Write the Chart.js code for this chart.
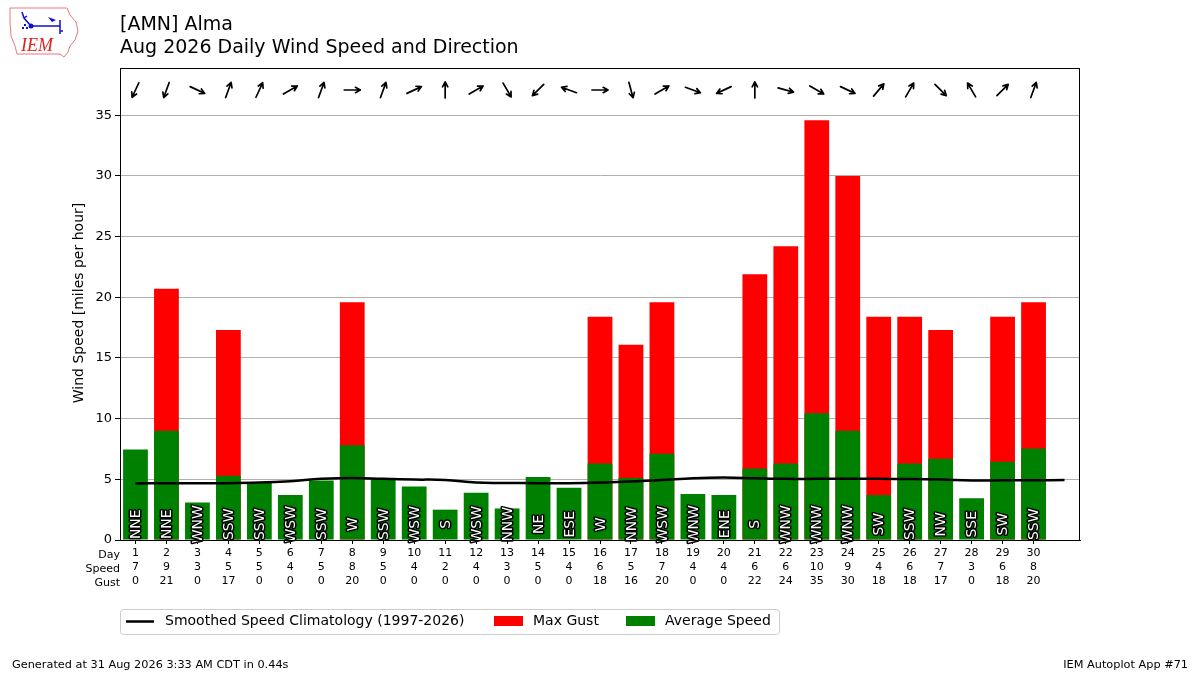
<!DOCTYPE html>
<html>
<head>
<meta charset="utf-8">
<script src="https://cdn.jsdelivr.net/npm/chart.js@4/dist/chart.umd.min.js"></script>
<style>
  html, body { margin: 0; padding: 0; background: #fff; }
  canvas { display: block; }
</style>
</head>
<body>
<canvas id="windChart" width="1200" height="675"></canvas>
<script>
// daily values, Aug 2026
const days = [1,2,3,4,5,6,7,8,9,10,11,12,13,14,15,16,17,18,19,20,21,22,23,24,25,26,27,28,29,30];
const avgSpeed = [7.45, 9.0, 3.1, 5.3, 4.7, 3.7, 4.9, 7.8, 5.0, 4.4, 2.5, 3.9, 2.6, 5.2, 4.3,
                  6.3, 5.1, 7.1, 3.8, 3.7, 5.9, 6.3, 10.45, 9.0, 3.7, 6.3, 6.7, 3.45, 6.45, 7.55];
const maxGust = [0, 20.7, 0, 17.3, 0, 0, 0, 19.6, 0, 0, 0, 0, 0, 0, 0,
                 18.4, 16.1, 19.6, 0, 0, 21.9, 24.2, 34.6, 30.0, 18.4, 18.4, 17.3, 0, 18.4, 19.6];
const speedLabels = [7,9,3,5,5,4,5,8,5,4,2,4,3,5,4,6,5,7,4,4,6,6,10,9,4,6,7,3,6,8];
const gustLabels = [0,21,0,17,0,0,0,20,0,0,0,0,0,0,0,18,16,20,0,0,22,24,35,30,18,18,17,0,18,20];
const dirNames = ['NNE','NNE','WNW','SSW','SSW','WSW','SSW','W','SSW','WSW','S','WSW','NNW','NE','ESE',
                  'W','NNW','WSW','WNW','ENE','S','WNW','WNW','WNW','SW','SSW','NW','SSE','SW','SSW'];
// direction the wind blows from, degrees
const dirDeg = [25, 20, 295, 200, 205, 240, 200, 270, 200, 245, 180, 240, 330, 45, 110,
                270, 345, 240, 290, 65, 180, 285, 300, 295, 220, 210, 315, 150, 225, 200];
// smoothed climatology, one value per day of August
const climDays = [1,2,3,4,5,6,7,8,9,10,11,12,13,14,15,16,17,18,19,20,21,22,23,24,25,26,27,28,29,30,31];
const climSpeed = [4.65, 4.68, 4.68, 4.68, 4.73, 4.85, 5.04, 5.12, 5.04, 4.98, 4.95, 4.73, 4.70, 4.68, 4.68,
                   4.73, 4.83, 4.95, 5.09, 5.15, 5.09, 5.04, 5.04, 5.04, 5.04, 5.02, 4.98, 4.90, 4.92, 4.92, 4.95];
const yTicks = [0, 5, 10, 15, 20, 25, 30, 35];

const FONT = 'DejaVu Sans';

// titles, frame, legend, footer, logo, arrows and direction labels
const decorations = {
  id: 'decorations',
  afterDatasetsDraw(chart) {
    const ctx = chart.ctx;
    const xs = chart.scales.x, ys = chart.scales.y;
    ctx.save();
    // direction text inside the bars
    ctx.font = '14px ' + FONT;
    ctx.textAlign = 'center';
    ctx.textBaseline = 'middle';
    ctx.lineJoin = 'round';
    days.forEach((d, i) => {
      ctx.save();
      ctx.translate(xs.getPixelForValue(d), ys.getPixelForValue(1.3));
      ctx.rotate(-Math.PI / 2);
      ctx.strokeStyle = '#000';
      ctx.lineWidth = 3;
      ctx.strokeText(dirNames[i], 0, 1);
      ctx.fillStyle = '#fff';
      ctx.fillText(dirNames[i], 0, 1);
      ctx.restore();
    });
    // arrows along the top
    ctx.strokeStyle = '#000';
    ctx.lineWidth = 1.7;
    ctx.lineCap = 'round';
    const ay = chart.chartArea.top + 22;
    days.forEach((d, i) => {
      const to = (dirDeg[i] + 180) * Math.PI / 180;
      const dx = Math.sin(to), dy = -Math.cos(to);
      const cx = xs.getPixelForValue(d);
      const L = 8;
      const hx = cx + dx * L, hy = ay + dy * L;
      ctx.beginPath();
      ctx.moveTo(cx - dx * L, ay - dy * L);
      ctx.lineTo(hx, hy);
      const back = Math.atan2(-dy, -dx);
      [0.5, -0.5].forEach(a => {
        ctx.moveTo(hx, hy);
        ctx.lineTo(hx + Math.cos(back + a) * 5.5, hy + Math.sin(back + a) * 5.5);
      });
      ctx.stroke();
    });
    ctx.restore();
  },
  afterDraw(chart) {
    const ctx = chart.ctx;
    const a = chart.chartArea;
    ctx.save();
    // frame
    ctx.strokeStyle = '#000';
    ctx.lineWidth = 1;
    ctx.strokeRect(a.left + 0.5, a.top + 0.5, a.right - a.left - 1, a.bottom - a.top);
    // titles
    ctx.fillStyle = '#000';
    ctx.textBaseline = 'middle';
    ctx.textAlign = 'left';
    ctx.font = '19px ' + FONT;
    ctx.fillText('[AMN] Alma', 120, 25);
    ctx.fillText('Aug 2026 Daily Wind Speed and Direction', 120, 48);
    // y title
    ctx.save();
    ctx.translate(79, 303);
    ctx.rotate(-Math.PI / 2);
    ctx.textAlign = 'center';
    ctx.font = '14px ' + FONT;
    ctx.fillText('Wind Speed [miles per hour]', 0, 0);
    ctx.restore();
    // row captions for the x labels
    ctx.font = '11px ' + FONT;
    ctx.textAlign = 'right';
    ['Day', 'Speed', 'Gust'].forEach((t, k) => ctx.fillText(t, 120, 555 + k * 14));
    // legend
    ctx.strokeStyle = '#cccccc';
    ctx.lineWidth = 1;
    ctx.beginPath();
    ctx.roundRect(120.5, 609.5, 659, 25, 3);
    ctx.stroke();
    ctx.font = '14px ' + FONT;
    ctx.textAlign = 'left';
    ctx.fillStyle = '#000';
    ctx.strokeStyle = '#000';
    ctx.lineWidth = 2.5;
    ctx.beginPath();
    ctx.moveTo(126, 621.5);
    ctx.lineTo(154, 621.5);
    ctx.stroke();
    ctx.fillText(chart.data.datasets[0].label, 165, 621);
    ctx.fillStyle = 'red';
    ctx.fillRect(494, 616, 29, 10);
    ctx.fillStyle = '#000';
    ctx.fillText(chart.data.datasets[2].label, 533, 621);
    ctx.fillStyle = 'green';
    ctx.fillRect(626, 616, 29, 10);
    ctx.fillStyle = '#000';
    ctx.fillText(chart.data.datasets[1].label, 665, 621);
    // footer
    ctx.font = '11.3px ' + FONT;
    ctx.fillText('Generated at 31 Aug 2026 3:33 AM CDT in 0.44s', 12, 665);
    ctx.textAlign = 'right';
    ctx.fillText('IEM Autoplot App #71', 1188, 665);
    // logo
    ctx.strokeStyle = '#e87878';
    ctx.lineWidth = 1;
    ctx.beginPath();
    ctx.moveTo(10, 8); ctx.lineTo(67, 8); ctx.lineTo(70, 15); ctx.lineTo(76, 22);
    ctx.lineTo(78, 31); ctx.lineTo(75, 40); ctx.lineTo(70, 46); ctx.lineTo(68, 52);
    ctx.lineTo(64, 57); ctx.lineTo(60, 54); ctx.lineTo(17, 54); ctx.lineTo(15, 46);
    ctx.lineTo(11, 36); ctx.lineTo(10, 22); ctx.closePath();
    ctx.stroke();
    ctx.strokeStyle = '#1010cc';
    ctx.fillStyle = '#1010cc';
    ctx.lineWidth = 1.5;
    ctx.beginPath();
    ctx.moveTo(31, 26); ctx.lineTo(60, 26);
    ctx.moveTo(60, 20); ctx.lineTo(60, 34);
    ctx.moveTo(31, 26); ctx.lineTo(24, 18); ctx.lineTo(22, 12);
    ctx.moveTo(24, 18); ctx.lineTo(27, 16);
    ctx.moveTo(60, 31); ctx.lineTo(63, 31);
    ctx.stroke();
    ctx.beginPath(); ctx.arc(31, 26, 2.5, 0, Math.PI * 2); ctx.fill();
    ctx.beginPath(); ctx.moveTo(48, 17); ctx.lineTo(56, 20); ctx.lineTo(52, 22); ctx.closePath(); ctx.fill();
    ctx.fillRect(24, 24, 2, 2); ctx.fillRect(22, 27, 2, 2); ctx.fillRect(26, 27, 2, 2);
    ctx.fillStyle = '#dd2222';
    ctx.font = 'italic 18px "Liberation Serif"';
    ctx.textAlign = 'left';
    ctx.fillText('IEM', 21, 46);
    ctx.restore();
  }
};

new Chart(document.getElementById('windChart').getContext('2d'), {
  type: 'bar',
  data: {
    datasets: [
      {
        type: 'line',
        label: 'Smoothed Speed Climatology (1997-2026)',
        data: climDays.map((d, i) => ({ x: d, y: climSpeed[i] })),
        borderColor: '#000',
        borderWidth: 2.5,
        pointRadius: 0,
        tension: 0.4,
        order: 0,
      },
      {
        label: 'Average Speed',
        data: days.map((d, i) => ({ x: d, y: avgSpeed[i] })),
        backgroundColor: 'green',
        barPercentage: 0.8,
        categoryPercentage: 1.0,
        grouped: false,
        order: 1,
      },
      {
        label: 'Max Gust',
        data: days.map((d, i) => ({ x: d, y: maxGust[i] })),
        backgroundColor: 'red',
        barPercentage: 0.8,
        categoryPercentage: 1.0,
        grouped: false,
        order: 2,
      },
    ],
  },
  options: {
    responsive: false,
    animation: false,
    devicePixelRatio: 1,
    layout: { padding: { left: 0, right: 120, top: 68, bottom: 0 } },
    plugins: {
      legend: { display: false },
      tooltip: { enabled: false },
    },
    scales: {
      x: {
        type: 'linear',
        min: 0.5,
        max: 31.5,
        offset: false,
        afterBuildTicks: (scale) => { scale.ticks = days.map(d => ({ value: d })); },
        afterFit: (scale) => { scale.height = 135; },
        grid: { offset: false, drawOnChartArea: false, drawTicks: true, tickLength: 4, tickColor: '#000' },
        border: { color: '#000', width: 1 },
        ticks: {
          autoSkip: false,
          maxRotation: 0,
          padding: 2,
          color: '#000',
          font: { family: FONT, size: 11, lineHeight: 1.27 },
          callback: (v) => {
            const i = days.indexOf(v);
            return i < 0 ? '' : [String(days[i]), String(speedLabels[i]), String(gustLabels[i])];
          },
        },
      },
      y: {
        min: 0,
        max: 38.9,
        z: 1,
        afterBuildTicks: (scale) => { scale.ticks = yTicks.map(v => ({ value: v })); },
        afterFit: (scale) => { scale.width = 120; },
        grid: { color: '#b0b0b0', lineWidth: 1, tickLength: 5, tickColor: '#000' },
        border: { color: '#000', width: 1 },
        ticks: {
          padding: 3,
          color: '#000',
          font: { family: FONT, size: 13 },
        },
      },
    },
  },
  plugins: [decorations],
});
</script>
</body>
</html>
